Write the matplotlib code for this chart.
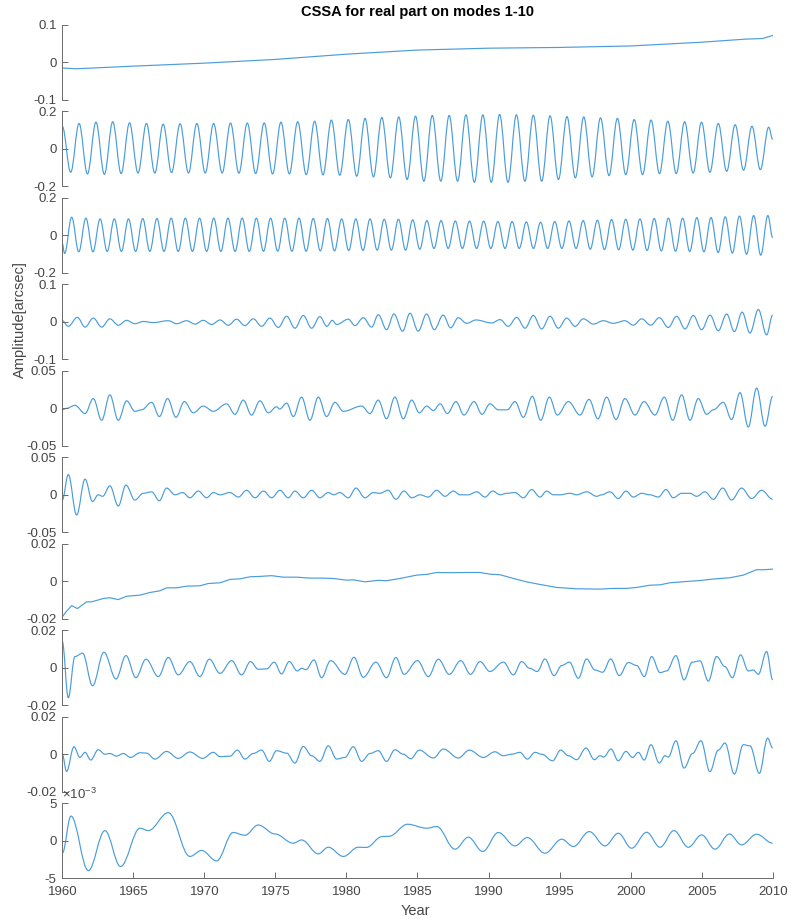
import numpy as np
import matplotlib
matplotlib.use("Agg")
import matplotlib.pyplot as plt
from matplotlib.path import Path
from matplotlib.patches import PathPatch

plt.rcParams["font.family"] = ["Liberation Sans", "DejaVu Sans"]
plt.rcParams["axes.unicode_minus"] = False
plt.rcParams["mathtext.fontset"] = "custom"
plt.rcParams["mathtext.rm"] = "Liberation Sans"

# ---- mode 1: slow trend ----
mode1_t = [1960.0, 1961.0, 1965.0, 1970.0, 1975.0, 1980.0, 1985.0, 1990.0,
           1995.0, 2000.0, 2005.0, 2008.0, 2009.3, 2010.0]
mode1_v = [-0.015, -0.017, -0.010, -0.002, 0.008, 0.022, 0.033, 0.038,
           0.040, 0.044, 0.054, 0.062, 0.064, 0.072]

# ---- mode 2: Chandler term, troughs and crests ----
mode2_trough_t = [1960.59, 1961.77, 1962.96, 1964.14, 1965.33, 1966.51, 1967.69,
                  1968.88, 1970.06, 1971.25, 1972.43, 1973.61, 1974.80, 1975.98,
                  1977.17, 1978.35, 1979.53, 1980.72, 1981.90, 1983.09, 1984.27,
                  1985.45, 1986.64, 1987.82, 1989.00, 1990.19, 1991.37, 1992.56,
                  1993.74, 1994.92, 1996.11, 1997.29, 1998.48, 1999.66, 2000.84,
                  2002.03, 2003.21, 2004.40, 2005.58, 2006.76, 2007.95, 2009.13]
mode2_trough_v = [-0.125, -0.134, -0.136, -0.132, -0.129, -0.129, -0.127,
                  -0.129, -0.129, -0.129, -0.130, -0.132, -0.134, -0.134,
                  -0.138, -0.139, -0.141, -0.146, -0.150, -0.155, -0.164,
                  -0.173, -0.173, -0.173, -0.179, -0.179, -0.179, -0.173,
                  -0.173, -0.164, -0.155, -0.150, -0.143, -0.138, -0.138,
                  -0.132, -0.132, -0.129, -0.125, -0.120, -0.114, -0.111]
mode2_peak_t = [1961.18, 1962.37, 1963.55, 1964.73, 1965.92, 1967.10, 1968.29,
                1969.47, 1970.65, 1971.84, 1973.02, 1974.21, 1975.39, 1976.57,
                1977.76, 1978.94, 1980.13, 1981.31, 1982.49, 1983.68, 1984.86,
                1986.04, 1987.23, 1988.41, 1989.60, 1990.78, 1991.96, 1993.15,
                1994.33, 1995.52, 1996.70, 1997.88, 1999.07, 2000.25, 2001.44,
                2002.62, 2003.80, 2004.99, 2006.17, 2007.36, 2008.54, 2009.72]
mode2_peak_v = [0.136, 0.143, 0.145, 0.139, 0.136, 0.132, 0.134,
                0.136, 0.136, 0.138, 0.138, 0.139, 0.143, 0.145,
                0.148, 0.154, 0.157, 0.163, 0.168, 0.171, 0.175,
                0.179, 0.179, 0.182, 0.182, 0.184, 0.182, 0.180,
                0.177, 0.173, 0.171, 0.166, 0.163, 0.157, 0.154,
                0.148, 0.145, 0.143, 0.136, 0.129, 0.121, 0.116]
mode2_ends_t = [1960.0, 2010.0]
mode2_ends_v = [0.12, 0.05]

# ---- mode 3: annual term ----
mode3_trough_t = [1960.16, 1961.16, 1962.16, 1963.16, 1964.16, 1965.16, 1966.16, 1967.16, 1968.16, 1969.16,
                  1970.16, 1971.16, 1972.16, 1973.16, 1974.16, 1975.16, 1976.16, 1977.16, 1978.16, 1979.16,
                  1980.16, 1981.16, 1982.16, 1983.16, 1984.16, 1985.16, 1986.16, 1987.16, 1988.16, 1989.16,
                  1990.16, 1991.16, 1992.16, 1993.16, 1994.16, 1995.16, 1996.16, 1997.16, 1998.16, 1999.16,
                  2000.16, 2001.16, 2002.16, 2003.16, 2004.16, 2005.16, 2006.16, 2007.16, 2008.16, 2009.16]
mode3_trough_v = [-0.097, -0.088, -0.088, -0.086, -0.086, -0.086, -0.086, -0.086, -0.086, -0.086,
                  -0.086, -0.086, -0.086, -0.086, -0.085, -0.085, -0.085, -0.085, -0.083, -0.083,
                  -0.081, -0.081, -0.079, -0.079, -0.079, -0.074, -0.070, -0.070, -0.070, -0.070,
                  -0.070, -0.070, -0.070, -0.070, -0.070, -0.070, -0.070, -0.074, -0.076, -0.077,
                  -0.079, -0.081, -0.083, -0.085, -0.086, -0.088, -0.092, -0.095, -0.101, -0.106]
mode3_peak_t = [1960.66, 1961.66, 1962.66, 1963.66, 1964.66, 1965.66, 1966.66, 1967.66, 1968.66, 1969.66,
                1970.66, 1971.66, 1972.66, 1973.66, 1974.66, 1975.66, 1976.66, 1977.66, 1978.66, 1979.66,
                1980.66, 1981.66, 1982.66, 1983.66, 1984.66, 1985.66, 1986.66, 1987.66, 1988.66, 1989.66,
                1990.66, 1991.66, 1992.66, 1993.66, 1994.66, 1995.66, 1996.66, 1997.66, 1998.66, 1999.66,
                2000.66, 2001.66, 2002.66, 2003.66, 2004.66, 2005.66, 2006.66, 2007.66, 2008.66, 2009.66]
mode3_peak_v = [0.097, 0.092, 0.088, 0.088, 0.088, 0.090, 0.090, 0.092, 0.092, 0.092,
                0.092, 0.092, 0.092, 0.092, 0.092, 0.092, 0.092, 0.090, 0.090, 0.088,
                0.088, 0.088, 0.086, 0.086, 0.083, 0.079, 0.079, 0.077, 0.076, 0.076,
                0.074, 0.074, 0.072, 0.070, 0.074, 0.077, 0.079, 0.081, 0.085, 0.086,
                0.088, 0.090, 0.092, 0.092, 0.095, 0.095, 0.099, 0.103, 0.106, 0.106]
mode3_ends_t = [1960.0, 2010.0]
mode3_ends_v = [-0.043, -0.013]

# ---- mode 4 ----
mode4_t = [1960.0, 1960.42, 1961.06, 1961.60, 1962.18, 1962.77, 1963.35, 1963.94, 1964.53, 1965.11,
           1965.70, 1966.40, 1967.46, 1968.05, 1968.75, 1969.34, 1969.92, 1970.51, 1971.10, 1971.68,
           1972.27, 1972.85, 1973.44, 1974.03, 1974.61, 1975.20, 1975.79, 1976.37, 1976.96, 1977.55,
           1978.13, 1978.62, 1979.00, 1979.31, 1980.13, 1980.60, 1981.18, 1981.77, 1982.24, 1982.83,
           1983.34, 1983.95, 1984.47, 1985.05, 1985.64, 1986.18, 1986.81, 1987.33, 1987.87, 1988.46,
           1989.12, 1990.22, 1990.81, 1991.39, 1991.98, 1992.57, 1993.15, 1993.74, 1994.33, 1994.91,
           1995.50, 1996.09, 1996.67, 1997.38, 1998.08, 1998.78, 1999.60, 2000.19, 2000.78, 2001.41,
           2002.02, 2002.65, 2003.24, 2003.83, 2004.41, 2005.00, 2005.59, 2006.17, 2006.76, 2007.30,
           2007.85, 2008.40, 2008.99, 2009.57, 2010.0]
mode4_v = [0.003, -0.012, 0.012, -0.014, 0.010, -0.014, 0.008, -0.009, 0.004, -0.005,
           0.001, -0.002, 0.003, -0.005, 0.003, -0.006, 0.004, -0.007, 0.005, -0.009,
           0.007, -0.010, 0.008, -0.012, 0.010, -0.015, 0.015, -0.017, 0.017, -0.017,
           0.014, -0.012, 0.004, -0.007, 0.007, -0.010, 0.011, -0.014, 0.019, -0.021,
           0.021, -0.025, 0.023, -0.025, 0.021, -0.021, 0.018, -0.016, 0.011, -0.004,
           0.005, -0.003, 0.006, -0.012, 0.012, -0.017, 0.017, -0.019, 0.015, -0.017,
           0.010, -0.012, 0.008, -0.006, 0.003, -0.004, 0.003, -0.009, 0.008, -0.009,
           0.011, -0.015, 0.015, -0.019, 0.017, -0.021, 0.018, -0.024, 0.021, -0.026,
           0.026, -0.030, 0.033, -0.035, 0.018]

# ---- mode 5 ----
mode5_t = [1960.0, 1960.30, 1960.89, 1961.60, 1962.18, 1962.77, 1963.35, 1963.94, 1964.53, 1965.11,
           1965.58, 1966.29, 1966.83, 1967.41, 1968.00, 1968.59, 1969.22, 1969.92, 1970.63, 1971.56,
           1972.15, 1972.74, 1973.32, 1973.91, 1974.50, 1975.08, 1975.30, 1975.79, 1976.26, 1976.84,
           1977.43, 1978.02, 1978.60, 1979.19, 1979.78, 1981.07, 1981.65, 1982.24, 1982.82, 1983.41,
           1984.00, 1984.59, 1985.13, 1985.65, 1986.12, 1986.59, 1987.10, 1987.71, 1988.27, 1988.98,
           1989.54, 1990.10, 1990.69, 1991.32, 1991.86, 1992.45, 1993.08, 1993.67, 1994.28, 1994.84,
           1995.62, 1996.44, 1997.07, 1997.70, 1998.31, 1998.97, 1999.60, 2000.31, 2000.94, 2001.71,
           2002.37, 2002.96, 2003.59, 2004.18, 2004.76, 2005.35, 2005.82, 2006.52, 2007.11, 2007.70,
           2008.28, 2008.87, 2009.46, 2010.0]
mode5_v = [-0.002, 0.000, 0.004, -0.007, 0.013, -0.016, 0.018, -0.016, 0.010, -0.004,
           -0.002, 0.008, -0.011, 0.013, -0.012, 0.009, -0.006, 0.003, -0.004, 0.006,
           -0.008, 0.011, -0.009, 0.010, -0.006, 0.002, -0.001, 0.007, -0.011, 0.015,
           -0.016, 0.015, -0.011, 0.008, -0.004, 0.003, -0.007, 0.011, -0.014, 0.015,
           -0.014, 0.011, -0.006, 0.003, -0.003, 0.006, -0.007, 0.009, -0.009, 0.009,
           -0.008, 0.006, -0.002, -0.002, 0.009, -0.012, 0.016, -0.016, 0.015, -0.009,
           0.009, -0.009, 0.012, -0.014, 0.015, -0.015, 0.013, -0.009, 0.009, -0.009,
           0.015, -0.016, 0.018, -0.016, 0.013, -0.008, -0.002, 0.008, -0.015, 0.021,
           -0.025, 0.027, -0.024, 0.016]

# ---- mode 6 ----
mode6_t = [1960.0, 1960.42, 1961.01, 1961.60, 1962.13, 1962.53, 1962.84, 1963.35, 1963.94, 1964.48,
           1965.11, 1965.70, 1966.29, 1966.83, 1967.34, 1967.93, 1968.47, 1968.98, 1969.57, 1970.16,
           1970.63, 1971.10, 1971.80, 1972.39, 1972.97, 1973.56, 1974.15, 1974.73, 1975.32, 1975.90,
           1976.37, 1976.96, 1977.55, 1978.13, 1978.72, 1979.10, 1979.54, 1980.13, 1980.67, 1981.30,
           1981.89, 1982.35, 1982.94, 1983.48, 1984.05, 1984.60, 1985.18, 1985.76, 1986.35, 1986.94,
           1987.52, 1987.99, 1988.58, 1989.17, 1989.75, 1990.29, 1990.81, 1991.28, 1991.86, 1992.45,
           1993.04, 1993.62, 1994.09, 1994.56, 1995.03, 1995.73, 1996.20, 1996.91, 1997.61, 1997.96,
           1998.55, 1999.13, 1999.67, 2000.19, 2000.78, 2001.36, 2001.95, 2002.49, 2003.00, 2003.59,
           2004.18, 2004.65, 2005.23, 2005.82, 2006.48, 2007.11, 2007.81, 2008.52, 2009.22, 2010.0]
mode6_v = [-0.007, 0.027, -0.027, 0.021, -0.009, 0.000, -0.002, 0.012, -0.015, 0.013,
           -0.007, 0.002, 0.004, -0.008, 0.009, 0.000, 0.003, -0.004, 0.005, -0.004,
           0.003, 0.000, 0.003, -0.003, 0.006, -0.004, 0.005, -0.004, 0.006, -0.004,
           0.005, -0.004, 0.006, -0.004, 0.003, 0.000, 0.003, -0.004, 0.009, -0.004,
           0.003, 0.002, 0.006, -0.006, 0.005, -0.004, 0.000, -0.003, 0.006, -0.002,
           0.005, 0.000, 0.000, 0.004, -0.003, 0.005, 0.000, 0.002, 0.003, -0.004,
           0.007, -0.003, 0.005, 0.000, 0.000, 0.002, 0.000, 0.004, -0.002, 0.000,
           0.004, -0.005, 0.005, -0.003, 0.002, 0.000, -0.003, 0.007, -0.004, 0.002,
           0.002, -0.002, 0.004, -0.006, 0.009, -0.007, 0.009, -0.005, 0.006, -0.006]

# ---- mode 7: second slow component ----
mode7_t = [1960.0, 1960.3, 1960.66, 1961.06, 1961.71, 1962.06, 1962.89, 1963.35, 1963.94, 1964.53,
           1965.47, 1966.17, 1966.87, 1967.34, 1968.05, 1968.75, 1969.69, 1970.27, 1971.1, 1971.8,
           1972.5, 1973.21, 1973.91, 1974.73, 1975.55, 1976.49, 1977.43, 1978.37, 1979.07, 1980.01,
           1980.48, 1981.3, 1982.24, 1982.82, 1983.77, 1984.94, 1985.65, 1986.35, 1987.29, 1988.46,
           1989.4, 1990.1, 1990.81, 1991.75, 1992.68, 1993.62, 1994.8, 1996.2, 1997.84, 1998.78,
           1999.72, 2000.42, 2001.36, 2002.07, 2002.77, 2003.94, 2004.88, 2005.82, 2006.99, 2007.93,
           2008.87, 2009.4, 2010.0]
mode7_v = [-0.019, -0.016, -0.013, -0.0146, -0.011, -0.011, -0.0092, -0.0088, -0.0098, -0.008,
           -0.0074, -0.006, -0.0051, -0.0035, -0.0035, -0.0026, -0.0024, -0.0012, -0.0008, 0.001,
           0.0013, 0.0024, 0.0026, 0.003, 0.0022, 0.0022, 0.0017, 0.0017, 0.0015, 0.0006,
           0.0008, -0.0003, 0.0005, 0.0003, 0.0015, 0.0033, 0.0037, 0.0047, 0.0046, 0.0047,
           0.0047, 0.0038, 0.0035, 0.0015, -0.0003, -0.0017, -0.0033, -0.004, -0.0042, -0.0038,
           -0.0038, -0.0033, -0.0021, -0.0019, -0.0008, -0.0001, 0.0004, 0.0012, 0.0019, 0.0033,
           0.0062, 0.0062, 0.0065]

# ---- mode 8 ----
mode8_t = [1960.0, 1960.42, 1960.89, 1961.43, 1962.13, 1962.93, 1963.78, 1964.48, 1965.18, 1965.89,
           1966.76, 1967.46, 1968.16, 1968.98, 1969.69, 1970.35, 1971.10, 1971.92, 1972.62, 1973.25,
           1973.79, 1974.38, 1974.92, 1975.43, 1975.97, 1976.54, 1976.84, 1977.15, 1977.71, 1978.25,
           1978.88, 1979.89, 1980.53, 1981.18, 1982.07, 1982.82, 1983.48, 1984.05, 1985.00, 1985.76,
           1986.47, 1987.24, 1988.04, 1988.74, 1989.40, 1990.10, 1991.04, 1991.75, 1992.33, 1992.90,
           1993.43, 1993.97, 1994.61, 1995.15, 1995.69, 1996.32, 1996.90, 1997.49, 1998.03, 1998.60,
           1999.20, 1999.84, 2000.43, 2000.96, 2001.48, 2002.07, 2002.54, 2003.19, 2003.76, 2004.34,
           2004.88, 2005.47, 2006.05, 2006.64, 2007.16, 2007.74, 2008.28, 2008.63, 2008.99, 2009.57,
           2010.0]
mode8_v = [0.014, -0.016, 0.006, 0.0078, -0.0096, 0.0083, -0.006, 0.0065, -0.0053, 0.0046,
           -0.0047, 0.0055, -0.0038, 0.0033, -0.0047, 0.0046, -0.003, 0.0038, -0.0038, 0.0033,
           -0.0008, -0.0006, 0.003, -0.0033, 0.0033, -0.0017, -0.0003, -0.001, 0.0042, -0.0053,
           0.0038, -0.0035, 0.0056, -0.0051, 0.003, -0.0053, 0.0055, -0.0035, 0.0038, -0.0047,
           0.0046, -0.0035, 0.0038, -0.0035, 0.0033, -0.002, 0.003, -0.0038, 0.0033, -0.0003,
           -0.002, 0.0047, -0.0042, 0.0012, 0.003, -0.0056, 0.0047, -0.0012, -0.0024, 0.0047,
           -0.0042, 0.0028, 0.0012, -0.0047, 0.006, -0.0026, -0.0017, 0.0065, -0.0065, 0.003,
           0.0037, -0.0071, 0.006, 0.0006, -0.0053, 0.0069, -0.0017, -0.0012, -0.0035, 0.0087,
           -0.0065]

# ---- mode 9 ----
mode9_t = [1960.0, 1960.30, 1960.82, 1961.24, 1961.60, 1962.00, 1962.53, 1963.00, 1963.35, 1963.82,
           1964.29, 1964.81, 1965.47, 1965.93, 1966.52, 1967.34, 1968.16, 1968.98, 1969.88, 1970.63,
           1971.10, 1971.80, 1972.32, 1972.85, 1973.44, 1974.03, 1974.57, 1975.08, 1975.79, 1976.37,
           1976.96, 1977.55, 1978.13, 1978.72, 1979.31, 1979.89, 1980.48, 1981.07, 1981.65, 1982.24,
           1982.82, 1983.41, 1984.00, 1984.53, 1985.12, 1986.12, 1986.82, 1987.87, 1988.65, 1989.63,
           1990.45, 1991.04, 1991.63, 1992.21, 1992.73, 1993.27, 1993.74, 1994.51, 1995.08, 1995.62,
           1996.20, 1996.86, 1997.45, 1997.84, 1998.10, 1998.62, 1999.13, 1999.67, 2000.14, 2000.54,
           2000.96, 2001.43, 2002.02, 2002.42, 2002.65, 2003.19, 2003.76, 2004.36, 2004.95, 2005.58,
           2006.17, 2006.64, 2007.30, 2007.93, 2008.40, 2009.06, 2009.64, 2010.0]
mode9_v = [0.0, -0.0092, 0.004, -0.0017, 0.001, -0.0031, 0.0024, 0.0, 0.0004, -0.001,
           0.0004, -0.0017, 0.0008, 0.0006, -0.0026, 0.0015, -0.0022, 0.0012, -0.0022, 0.001,
           -0.0013, -0.001, 0.0022, -0.0026, 0.0004, 0.0022, -0.0038, 0.0019, 0.0006, -0.0047,
           0.0042, -0.0008, -0.0038, 0.0045, -0.0026, -0.0017, 0.004, -0.0038, 0.0004, 0.0019,
           -0.0038, 0.0024, 0.0, -0.0024, 0.0022, -0.002, 0.0028, -0.002, 0.0022, -0.0017,
           0.0013, -0.0008, 0.0, 0.001, -0.0026, 0.001, 0.0, -0.0035, 0.0022, -0.0008,
           -0.0029, 0.0033, -0.0029, -0.0008, -0.0015, 0.0028, -0.0035, 0.0015, -0.0017, 0.001,
           -0.0031, 0.0051, -0.0047, -0.0008, -0.0015, 0.0072, -0.0074, 0.0004, 0.0072, -0.0093,
           0.0022, 0.006, -0.0106, 0.0051, 0.0045, -0.0102, 0.0086, 0.0033]

# ---- mode 10 (units of 1e-3 arcsec) ----
mode10_t = [1960.0, 1960.61, 1961.83, 1963.00, 1964.10, 1965.47, 1966.05, 1967.46, 1968.98, 1969.80,
            1970.86, 1972.03, 1972.85, 1973.79, 1974.97, 1976.26, 1976.84, 1978.02, 1978.72, 1979.78,
            1980.83, 1981.40, 1982.50, 1983.00, 1984.30, 1985.65, 1986.35, 1987.64, 1988.58, 1989.59,
            1990.69, 1991.86, 1992.73, 1993.97, 1995.15, 1995.97, 1997.09, 1998.20, 1999.13, 2000.07,
            2001.13, 2002.07, 2003.05, 2004.06, 2005.00, 2005.94, 2006.95, 2007.81, 2008.87, 2010.0]
mode10_v = [-1.67, 3.3, -4.0, 1.35, -3.45, 1.67, 1.35, 3.75, -2.1, -1.3,
            -2.7, 1.1, 0.73, 2.1, 0.9, -0.33, 0.1, -1.75, -0.87, -2.1,
            -0.87, -0.9, 0.55, 0.6, 2.2, 1.67, 1.9, -1.13, 0.47, -1.44,
            1.1, -0.69, 0.42, -1.67, 0.2, -0.78, 1.22, -0.69, 1.0, -1.0,
            1.13, -0.87, 1.35, -0.87, 0.78, -1.13, 0.9, -0.55, 0.87, -0.33]

year_ticks = [1960, 1965, 1970, 1975, 1980, 1985, 1990, 1995, 2000, 2005, 2010]
ytick_sets = [
    ([-0.1, 0, 0.1], ["-0.1", "0", "0.1"]),
    ([-0.2, 0, 0.2], ["-0.2", "0", "0.2"]),
    ([-0.2, 0, 0.2], ["-0.2", "0", "0.2"]),
    ([-0.1, 0, 0.1], ["-0.1", "0", "0.1"]),
    ([-0.05, 0, 0.05], ["-0.05", "0", "0.05"]),
    ([-0.05, 0, 0.05], ["-0.05", "0", "0.05"]),
    ([-0.02, 0, 0.02], ["-0.02", "0", "0.02"]),
    ([-0.02, 0, 0.02], ["-0.02", "0", "0.02"]),
    ([-0.02, 0, 0.02], ["-0.02", "0", "0.02"]),
    ([-5, 0, 5], ["-5", "0", "5"]),
]

LINE = "#4a9ddb"
AXC = "#6b6b6b"
TXT = "#454545"


def wave_path(t, v):
    # smooth curve through turning points: flat tangent at each point
    order = np.argsort(t)
    t = np.asarray(t, float)[order]
    v = np.asarray(v, float)[order]
    verts = [(t[0], v[0])]
    codes = [Path.MOVETO]
    for t0, v0, t1, v1 in zip(t[:-1], v[:-1], t[1:], v[1:]):
        d = 0.364 * (t1 - t0)
        verts += [(t0 + d, v0), (t1 - d, v1), (t1, v1)]
        codes += [Path.CURVE4] * 3
    return Path(verts, codes)


series = [
    ("line", mode1_t, mode1_v),
    ("wave", mode2_trough_t + mode2_peak_t + mode2_ends_t,
     mode2_trough_v + mode2_peak_v + mode2_ends_v),
    ("wave", mode3_trough_t + mode3_peak_t + mode3_ends_t,
     mode3_trough_v + mode3_peak_v + mode3_ends_v),
    ("wave", mode4_t, mode4_v),
    ("wave", mode5_t, mode5_v),
    ("wave", mode6_t, mode6_v),
    ("line", mode7_t, mode7_v),
    ("wave", mode8_t, mode8_v),
    ("wave", mode9_t, mode9_v),
    ("wave", mode10_t, mode10_v),
]

W, H = 789, 919
fig = plt.figure(figsize=(W / 100, H / 100), dpi=100)

x0, x1 = 62.3, 772.7
top0, step, h = 25.0, 86.48, 74.8
TICK_FS = 9.5

axes = []
for i, (kind, t, v) in enumerate(series):
    top = top0 + step * i
    ax = fig.add_axes([x0 / W, 1 - (top + h) / H, (x1 - x0) / W, h / H])
    if kind == "line":
        ax.plot(t, v, color=LINE, lw=0.85)
    else:
        ax.add_patch(PathPatch(wave_path(t, v), fill=False, edgecolor=LINE,
                               lw=0.85, joinstyle="round"))
    ticks, labels = ytick_sets[i]
    ax.set_xlim(1960, 2010)
    ax.set_ylim(ticks[0], ticks[-1])
    ax.set_yticks(ticks, labels=labels)
    for s in ("top", "right"):
        ax.spines[s].set_visible(False)
    ax.spines["left"].set_color(AXC)
    ax.spines["left"].set_linewidth(0.7)
    ax.tick_params(axis="y", direction="in", length=4, width=0.7, color=AXC,
                   labelsize=TICK_FS, labelcolor=TXT, pad=4)
    if i < len(series) - 1:
        ax.spines["bottom"].set_visible(False)
        ax.set_xticks([])
    else:
        ax.spines["bottom"].set_color(AXC)
        ax.spines["bottom"].set_linewidth(0.7)
        ax.set_xticks(year_ticks, labels=[str(y) for y in year_ticks])
        ax.tick_params(axis="x", direction="in", length=4, width=0.7, color=AXC,
                       labelsize=TICK_FS, labelcolor=TXT, pad=6)
    ax.patch.set_visible(False)
    axes.append(ax)

# exponent marker above the last panel
axes[-1].text(0.0, 1.015, r"$\times10^{-3}$", transform=axes[-1].transAxes,
              ha="left", va="bottom", fontsize=9.5, color=TXT)

fig.text(417.5 / W, 1 - 12 / H, "CSSA for real part on modes 1-10",
         ha="center", va="center", fontsize=10.5, fontweight="bold", color="black")
fig.text(20 / W, 1 - 320 / H, "Amplitude[arcsec]", rotation=90,
         ha="center", va="center", fontsize=10.5, color=TXT)
fig.text(415 / W, 1 - 911 / H, "Year", ha="center", va="center",
         fontsize=10.5, color=TXT)

fig.savefig("out.png", dpi=100, facecolor="white")
